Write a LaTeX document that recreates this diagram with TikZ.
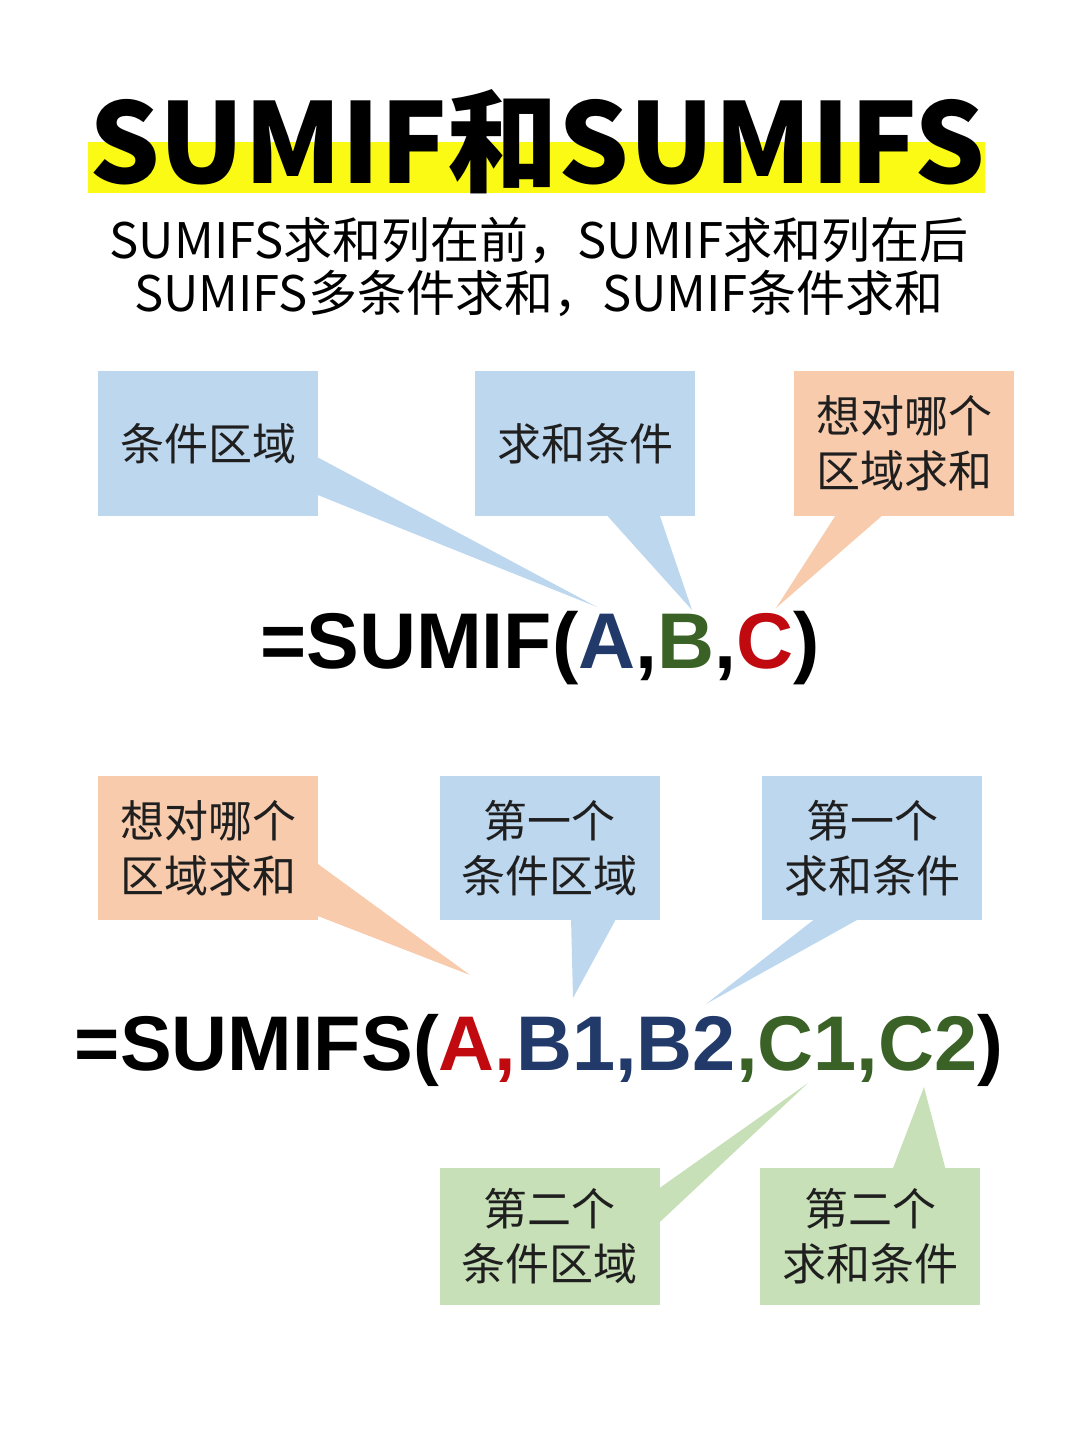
\documentclass[tikz,border=0pt]{standalone}
\usepackage{fontspec}
\setmainfont{Noto Sans CJK SC}
\newfontfamily\fonteFormula{Liberation Sans}
\usepackage{xcolor}
\usetikzlibrary{positioning,calc,backgrounds}
\definecolor{azulCaixa}{RGB}{189,215,238}
\definecolor{laranjaCaixa}{RGB}{248,203,173}
\definecolor{verdeCaixa}{RGB}{199,224,183}
\definecolor{amareloTitulo}{RGB}{250,250,20}
\definecolor{azulTexto}{RGB}{33,58,106}
\definecolor{verdeTexto}{RGB}{58,98,38}
\definecolor{vermelhoTexto}{RGB}{192,10,16}
\tikzset{
  caixa/.style={rectangle, minimum width=220pt, minimum height=145pt,
                inner sep=0pt, align=center, text=black!88,
                font=\fontsize{44}{55}\selectfont},
  caixaAzul/.style={caixa, fill=azulCaixa},
  caixaLaranja/.style={caixa, fill=laranjaCaixa},
  caixaVerde/.style={caixa, fill=verdeCaixa, minimum height=137pt},
  titulo/.style={inner sep=0pt, font=\fontsize{111}{120}\selectfont\bfseries},
  subtitulo/.style={inner sep=0pt, font=\fontsize{49}{55}\selectfont},
  formula/.style={inner sep=0pt, font=\fonteFormula\bfseries},
}

\begin{document}
\begin{tikzpicture}[x=1pt, y=-1pt]
  \path[use as bounding box] (0,0) rectangle (1080,1440);

  % titulo
  \fill[amareloTitulo] (88,142) rectangle (985,193);
  \node[titulo, anchor=base] (tit) at (537,183) {SUMIF和SUMIFS};
  \node[subtitulo, anchor=base] (sub1) at (539,258) {SUMIFS求和列在前，SUMIF求和列在后};
  \node[subtitulo, anchor=base] (sub2) at (539,311) {SUMIFS多条件求和，SUMIF条件求和};

  % SUMIF
  \node[caixaAzul] (cond) at (208,443.5) {条件区域};
  \node[caixaAzul] (crit) at (585,443.5) {求和条件};
  \node[caixaLaranja] (soma) at (904,443.5) {想对哪个\\区域求和};
  \node[formula, font=\fontsize{79}{80}\selectfont\fonteFormula\bfseries, anchor=base] (sumif) at (540,668)
    {=SUMIF(\textcolor{azulTexto}{A},\textcolor{verdeTexto}{B},\textcolor{vermelhoTexto}{C})};
  \coordinate (pA) at (597,607);
  \coordinate (pB) at (692,610);
  \coordinate (pC) at (776,608);

  % SUMIFS
  \node[caixaLaranja, minimum height=144pt] (soma2) at (208,848) {想对哪个\\区域求和};
  \node[caixaAzul, minimum height=144pt] (cond1) at (549.5,848) {第一个\\条件区域};
  \node[caixaAzul, minimum height=144pt] (crit1) at (872,848) {第一个\\求和条件};
  \node[formula, font=\fontsize{77.5}{80}\selectfont\fonteFormula\bfseries, anchor=base] (sumifs) at (539,1070)
    {=SUMIFS(\textcolor{vermelhoTexto}{A,}\textcolor{azulTexto}{B1,B2}\textcolor{verdeTexto}{,C1,C2})};
  \coordinate (pA2) at (470,975);
  \coordinate (pB1) at (573,998);
  \coordinate (pB2) at (706,1004);
  \coordinate (pC1) at (808,1083);
  \coordinate (pC2) at (924,1087);
  \node[caixaVerde] (cond2) at (549.5,1236.5) {第二个\\条件区域};
  \node[caixaVerde] (crit2) at (870,1236.5) {第二个\\求和条件};

  % pontas das caixas
  \begin{scope}[on background layer]
    \fill[azulCaixa] ($(cond.east)+(-3,12.5)$) -- ($(cond.east)+(-3,50.5)$) -- (pA) -- cycle;
    \fill[azulCaixa] ($(crit.south)+(20,-3)$) -- ($(crit.south)+(74,-3)$) -- (pB) -- cycle;
    \fill[laranjaCaixa] ($(soma.south)+(-67,-3)$) -- ($(soma.south)+(-19,-3)$) -- (pC) -- cycle;
    \fill[laranjaCaixa] ($(soma2.east)+(-3,14)$) -- ($(soma2.east)+(-3,67)$) -- (pA2) -- cycle;
    \fill[azulCaixa] ($(cond1.south)+(21.5,-3)$) -- ($(cond1.south)+(67.5,-3)$) -- (pB1) -- cycle;
    \fill[azulCaixa] ($(crit1.south)+(-55,-3)$) -- ($(crit1.south)+(-10,-3)$) -- (pB2) -- cycle;
    \fill[verdeCaixa] ($(cond2.east)+(-3,-46.5)$) -- ($(cond2.east)+(-3,-11.5)$) -- (pC1) -- cycle;
    \fill[verdeCaixa] ($(crit2.north)+(22,3)$) -- ($(crit2.north)+(76,3)$) -- (pC2) -- cycle;
  \end{scope}
\end{tikzpicture}
\end{document}
